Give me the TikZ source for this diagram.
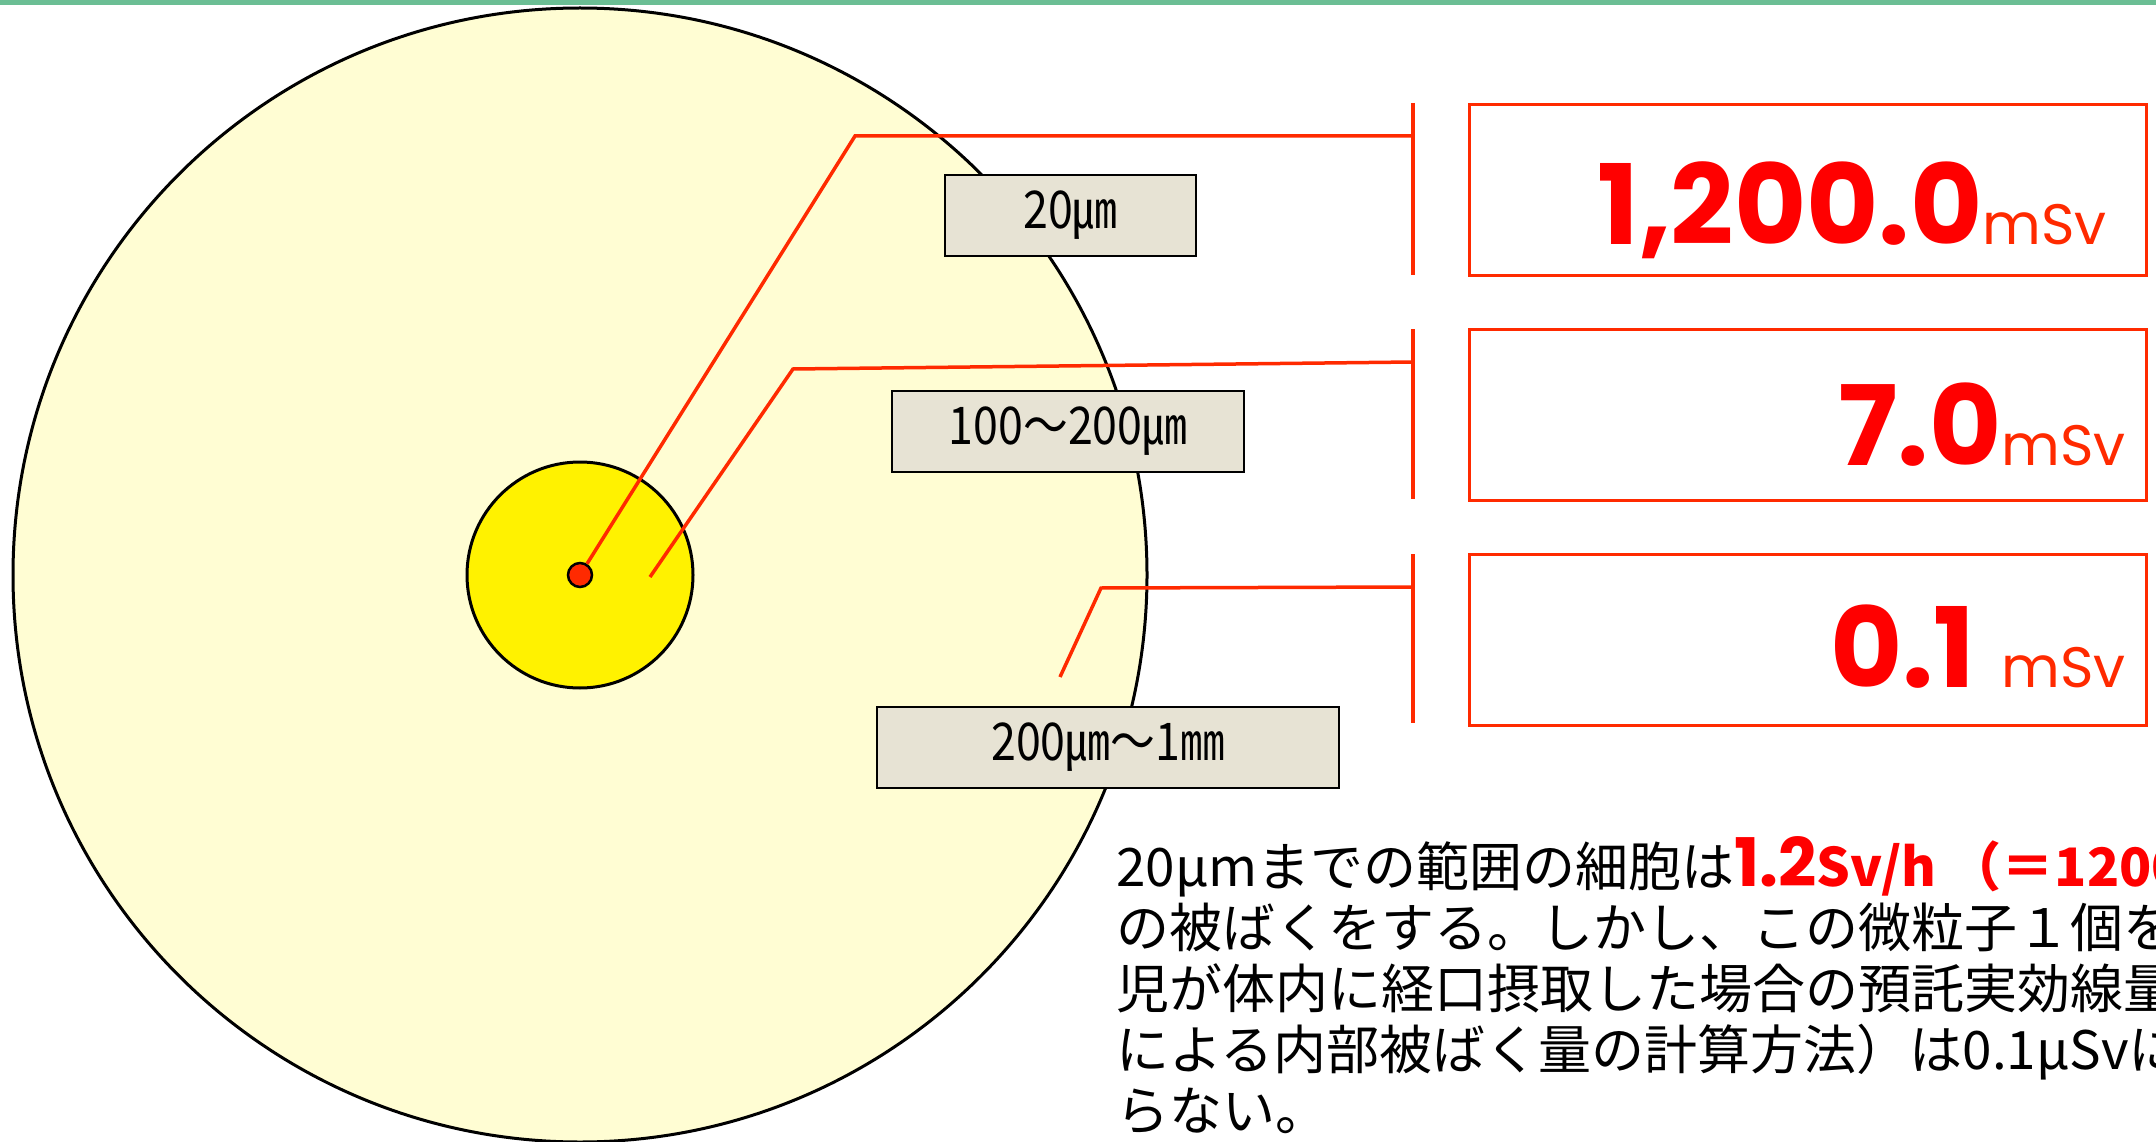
\documentclass[tikz,border=0pt]{standalone}
\usepackage{fontspec}
\newfontfamily\jp{Noto Sans CJK JP}
\newfontfamily\jpn[FakeStretch=0.86]{Noto Sans CJK JP}
\newfontfamily\pop{Poppins}
\definecolor{greenbar}{HTML}{6BBE94}
\definecolor{outerfill}{HTML}{FFFDD3}
\definecolor{lred}{HTML}{FF2A00}
\definecolor{labfill}{HTML}{E7E3D4}
\begin{document}
\begin{tikzpicture}[x=1pt,y=-1pt,
  redline/.style={draw=lred,line width=3.5pt,line join=miter},
  barline/.style={draw=lred,line width=3.5pt},
  labelbox/.style={draw=black,line width=2pt,fill=labfill,inner sep=0pt,minimum height=81pt,font=\jpn\fontsize{52}{52}\selectfont},
  valbox/.style={draw=lred,line width=3pt,fill=white,minimum width=677pt,minimum height=171pt,inner sep=0pt},
  ring/.style={circle,draw=black,line width=3pt,inner sep=0pt},
  bignum/.style={anchor=base east,inner sep=0pt,text=red},
  bodyline/.style={anchor=base west,inner sep=0pt,font=\jp\fontsize{53}{53}\selectfont}
]
\clip (0,0) rectangle (2156,1142);
\fill[white] (0,0) rectangle (2156,1142);
\fill[greenbar] (0,0) rectangle (2156,5);

% circles
\node[ring,fill=outerfill,minimum size=1134pt] (outer) at (580,575) {};
\node[ring,fill=yellow,minimum size=226pt] (mid) at (580,575) {};
\node[ring,fill=lred,line width=2.5pt,minimum size=24pt] (dot) at (580,575) {};

% connector points
\coordinate (k1) at (855,136);  \coordinate (j1) at (1413,136);
\coordinate (s2) at (650,577);  \coordinate (k2) at (793,369);  \coordinate (j2) at (1413,362);
\coordinate (s3) at (1060,677); \coordinate (k3) at (1101,588); \coordinate (j3) at (1413,587);
\coordinate (b1t) at (1413,103); \coordinate (b1b) at (1413,275);
\coordinate (b2t) at (1413,329); \coordinate (b2b) at (1413,499);
\coordinate (b3t) at (1413,554); \coordinate (b3b) at (1413,723);

\draw[redline] (dot) -- (k1) -- (j1);
\draw[redline] (s2) -- (k2) -- (j2);
\draw[redline] (s3) -- (k3) -- (j3);
\draw[barline] (b1t) -- (b1b);
\draw[barline] (b2t) -- (b2b);
\draw[barline] (b3t) -- (b3b);

% labels
\node[labelbox,minimum width=251pt] (lab1) at (1070.5,215.5) {\raisebox{-5pt}{20㎛}};
\node[labelbox,minimum width=352pt] (lab2) at (1068,431) {\raisebox{-5pt}{100～200㎛}};
\node[labelbox,minimum width=462pt] (lab3) at (1108,747.5) {\raisebox{-5pt}{200㎛～1㎜}};

% value boxes
\node[valbox] (vb1) at (1807.5,190) {};
\node[valbox] (vb2) at (1807.5,414.5) {};
\node[valbox] (vb3) at (1807.5,639.5) {};

\node[bignum] (v1) at (2107,245) {{\pop\bfseries\fontsize{111}{111}\selectfont 1,200.0}{\color{lred}\pop\fontsize{57}{57}\selectfont mSv}};
\node[bignum] (v2) at (2126,465) {{\pop\bfseries\fontsize{111}{111}\selectfont 7.0}{\color{lred}\pop\fontsize{57}{57}\selectfont mSv}};
\node[bignum] (v3) at (2126,687) {{\pop\bfseries\fontsize{111}{111}\selectfont 0.1}{\color{lred}\pop\fontsize{57}{57}\selectfont\hspace{26pt}mSv}};

% body text
\node[bodyline] (t1) at (1116,886) {20μmまでの範囲の細胞は{\color{red}\pop\bfseries\fontsize{67}{67}\selectfont 1.2}{\color{red}\bfseries Sv/h （＝1200}};
\node[bodyline] (t2) at (1116,947) {の被ばくをする。しかし、この微粒子１個を};
\node[bodyline] (t3) at (1116,1008) {児が体内に経口摂取した場合の預託実効線量};
\node[bodyline] (t4) at (1116,1069) {による内部被ばく量の計算方法）は0.1μSvに};
\node[bodyline] (t5) at (1116,1130) {らない。};
\end{tikzpicture}
\end{document}
